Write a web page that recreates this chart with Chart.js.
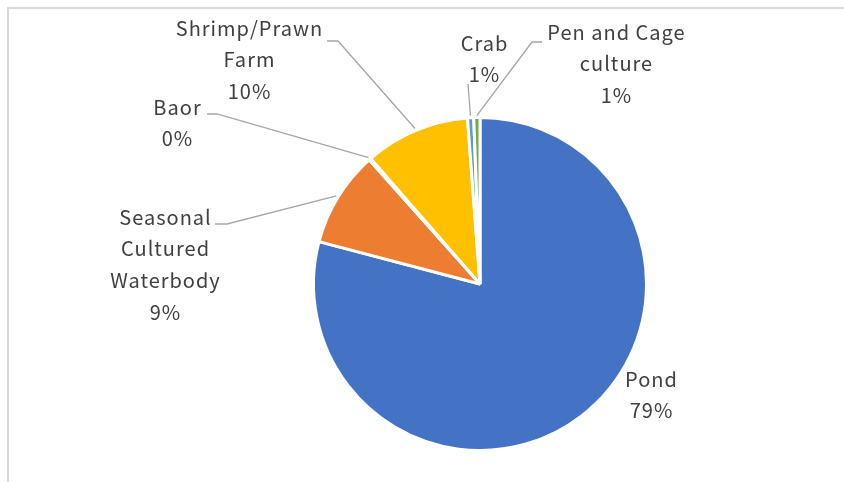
<!DOCTYPE html>
<html>
<head>
<meta charset="utf-8">
<script src="https://cdn.jsdelivr.net/npm/chart.js@4.4.1/dist/chart.umd.min.js"></script>
<style>
  html, body { margin: 0; padding: 0; background: #ffffff; }
  #wrap { position: relative; width: 844px; height: 482px; overflow: hidden; }
</style>
</head>
<body>
<div id="wrap"><canvas id="chart" width="844" height="482"></canvas></div>
<script>
// Share of culture area by waterbody type (%)
const categories = ['Pond', 'Seasonal Cultured Waterbody', 'Baor', 'Shrimp/Prawn Farm', 'Crab', 'Pen and Cage culture'];
const shares = [79.1, 9.3, 0.2, 10.2, 0.6, 0.6];
const sliceColors = ['#4472C4', '#ED7D31', '#A5A5A5', '#FFC000', '#5B9BD5', '#70AD47'];

// Label placement: text lines per category, text centre, and leader-line knee points
const labelLines = [
  ['Pond'],
  ['Seasonal', 'Cultured', 'Waterbody'],
  ['Baor'],
  ['Shrimp/Prawn', 'Farm'],
  ['Crab'],
  ['Pen and Cage', 'culture']
];
const labelCenterX = [651, 165, 177, 249, 484, 616];
const labelTopY = [379, 217, 107, 28, 43, 32];
const leaderPaths = [
  null,
  [[215, 224], [227, 224]],
  [[207, 114], [217, 114]],
  [[327, 41], [338, 41]],
  [[468, 84]],
  [[542, 42], [532, 42]]
];

const total = shares.reduce((a, b) => a + b, 0);
const pctText = v => Math.round(v / total * 100) + '%';

const framePlugin = {
  id: 'frame',
  beforeDraw(chart) {
    const ctx = chart.ctx;
    ctx.save();
    ctx.fillStyle = '#ffffff';
    ctx.fillRect(0, 0, chart.width, chart.height);
    ctx.strokeStyle = '#d9d9d9';
    ctx.lineWidth = 2;
    ctx.strokeRect(8, 8, chart.width + 20, chart.height + 20);
    ctx.restore();
  }
};

const labelPlugin = {
  id: 'sliceLabels',
  afterDatasetsDraw(chart) {
    const ctx = chart.ctx;
    const arcs = chart.getDatasetMeta(0).data;
    ctx.save();
    // leader lines
    ctx.strokeStyle = '#a6a6a6';
    ctx.lineWidth = 1.3;
    arcs.forEach((arc, i) => {
      const path = leaderPaths[i];
      if (!path) return;
      const p = arc.getProps(['x', 'y', 'startAngle', 'endAngle', 'outerRadius'], true);
      const mid = (p.startAngle + p.endAngle) / 2;
      const r = p.outerRadius + 2;
      const ex = p.x + Math.cos(mid) * r;
      const ey = p.y + Math.sin(mid) * r;
      ctx.beginPath();
      ctx.moveTo(path[0][0], path[0][1]);
      for (let k = 1; k < path.length; k++) ctx.lineTo(path[k][0], path[k][1]);
      ctx.lineTo(ex, ey);
      ctx.stroke();
    });
    // label text
    ctx.fillStyle = '#404040';
    ctx.font = '20px "Noto Sans CJK JP", "Noto Sans", sans-serif';
    ctx.letterSpacing = '1px';
    ctx.textAlign = 'center';
    ctx.textBaseline = 'middle';
    const step = 31.7;
    categories.forEach((c, i) => {
      const lines = labelLines[i].concat([pctText(shares[i])]);
      lines.forEach((t, k) => {
        ctx.fillText(t, labelCenterX[i] + 0.5, labelTopY[i] + k * step);
      });
    });
    ctx.restore();
  }
};

new Chart(document.getElementById('chart'), {
  type: 'pie',
  data: {
    labels: categories,
    datasets: [{
      data: shares,
      backgroundColor: sliceColors,
      borderColor: '#ffffff',
      borderWidth: 3
    }]
  },
  options: {
    responsive: false,
    animation: false,
    rotation: 0,
    layout: { padding: { left: 312, right: 196, top: 116, bottom: 30 } },
    plugins: {
      legend: { display: false },
      tooltip: { enabled: false },
      title: { display: false }
    }
  },
  plugins: [framePlugin, labelPlugin]
});
</script>
</body>
</html>
